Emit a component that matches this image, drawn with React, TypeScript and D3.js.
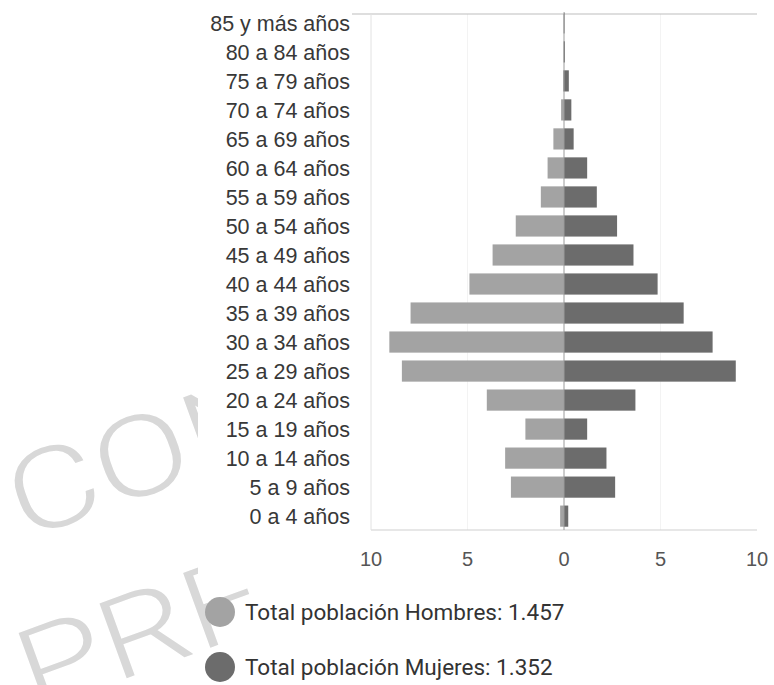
import React, { useEffect, useRef } from 'react';
import * as d3 from 'd3';

const W = 774;
const H = 685;

// age groups, top to bottom as drawn
const AGES = [
  '85 y más años', '80 a 84 años', '75 a 79 años', '70 a 74 años', '65 a 69 años',
  '60 a 64 años', '55 a 59 años', '50 a 54 años', '45 a 49 años', '40 a 44 años',
  '35 a 39 años', '30 a 34 años', '25 a 29 años', '20 a 24 años', '15 a 19 años',
  '10 a 14 años', '5 a 9 años', '0 a 4 años',
];
const HOMBRES = [0.03, 0.03, 0.05, 0.15, 0.55, 0.85, 1.2, 2.5, 3.7, 4.9, 7.95, 9.05, 8.4, 4.0, 2.0, 3.05, 2.75, 0.2];
const MUJERES = [0.03, 0.05, 0.25, 0.38, 0.5, 1.2, 1.7, 2.75, 3.6, 4.85, 6.2, 7.7, 8.9, 3.7, 1.2, 2.2, 2.65, 0.22];
const X_TICKS = [-10, -5, 0, 5, 10];
const LEGEND = ['Total población Hombres: 1.457', 'Total población Mujeres: 1.352'];
const WATERMARK = ['CON', 'PRF'];

const C_H = '#a3a3a3';
const C_M = '#6c6c6c';

export default function App() {
  const ref = useRef<SVGSVGElement>(null);

  useEffect(() => {
    const svg = d3.select(ref.current);
    svg.selectAll('*').remove();

    svg.append('rect').attr('width', W).attr('height', H).attr('fill', '#fff');

    // watermark (only the left part shows, the chart covers the rest)
    const wm = svg.append('g').attr('fill', '#d8d8d8').attr('font-family', 'Roboto, sans-serif')
      .attr('font-weight', 300).attr('font-size', 112);
    wm.append('text').attr('transform', 'translate(24,540) rotate(-20) scale(1.25,1)').text(WATERMARK[0]);
    wm.append('text').attr('transform', 'translate(34,712) rotate(-20) scale(1.25,1)').text(WATERMARK[1]);

    // chart background covers watermark
    svg.append('rect').attr('x', 198).attr('y', 0).attr('width', W - 198).attr('height', 585).attr('fill', '#fff');

    const x = d3.scaleLinear().domain([-10, 10]).range([371, 757]);
    const y = d3.scaleBand().domain(AGES).range([8.5, 530.5]).paddingInner(0.27).paddingOuter(0.13);

    const g = svg.append('g');

    // faint grid
    g.selectAll('line.grid').data([-5, 5]).join('line')
      .attr('x1', d => x(d)).attr('x2', d => x(d)).attr('y1', 14).attr('y2', 530)
      .attr('stroke', '#f3f3f3');

    // frame lines
    g.append('line').attr('x1', 352).attr('x2', 757).attr('y1', 14).attr('y2', 14).attr('stroke', '#bdbdbd').attr('stroke-width', 1.2);
    g.append('line').attr('x1', 371).attr('x2', 757).attr('y1', 530).attr('y2', 530).attr('stroke', '#cfcfcf').attr('stroke-width', 1.2);
    g.append('line').attr('x1', 371).attr('x2', 371).attr('y1', 14).attr('y2', 530).attr('stroke', '#e2e2e2');

    // bars
    g.selectAll('rect.h').data(AGES).join('rect')
      .attr('x', (d, i) => x(-HOMBRES[i])).attr('width', (d, i) => x(0) - x(-HOMBRES[i]))
      .attr('y', d => y(d)!).attr('height', y.bandwidth()).attr('fill', C_H);
    g.selectAll('rect.m').data(AGES).join('rect')
      .attr('x', x(0)).attr('width', (d, i) => x(MUJERES[i]) - x(0))
      .attr('y', d => y(d)!).attr('height', y.bandwidth()).attr('fill', C_M);

    // zero line
    g.append('line').attr('x1', x(0)).attr('x2', x(0)).attr('y1', 14).attr('y2', 530)
      .attr('stroke', '#9a9a9a').attr('stroke-width', 1);

    // category labels
    g.selectAll('text.cat').data(AGES).join('text')
      .attr('x', 350).attr('y', d => y(d)! + y.bandwidth() / 2).attr('dy', '0.36em')
      .attr('text-anchor', 'end').attr('font-family', 'Arial, "Liberation Sans", sans-serif')
      .attr('font-size', 21.5).attr('fill', '#383838').text(d => d);

    // x ticks
    g.selectAll('text.tick').data(X_TICKS).join('text')
      .attr('x', d => x(d)).attr('y', 559).attr('dy', '0.36em').attr('text-anchor', 'middle')
      .attr('font-family', 'Arial, "Liberation Sans", sans-serif').attr('font-size', 20)
      .attr('fill', '#555').text(d => String(Math.abs(d)));

    // legend
    const lg = svg.append('g');
    LEGEND.forEach((t, i) => {
      const cy = 612 + i * 55;
      lg.append('circle').attr('cx', 220).attr('cy', cy).attr('r', 15).attr('fill', i === 0 ? C_H : C_M);
      lg.append('text').attr('x', 245).attr('y', cy).attr('dy', '0.36em')
        .attr('font-family', 'Roboto, sans-serif').attr('font-size', 22.5).attr('fill', '#333').text(t);
    });
  }, []);

  return (
    <svg ref={ref} width={W} height={H} style={{ position: 'absolute', left: 0, top: 0, display: 'block' }} />
  );
}
